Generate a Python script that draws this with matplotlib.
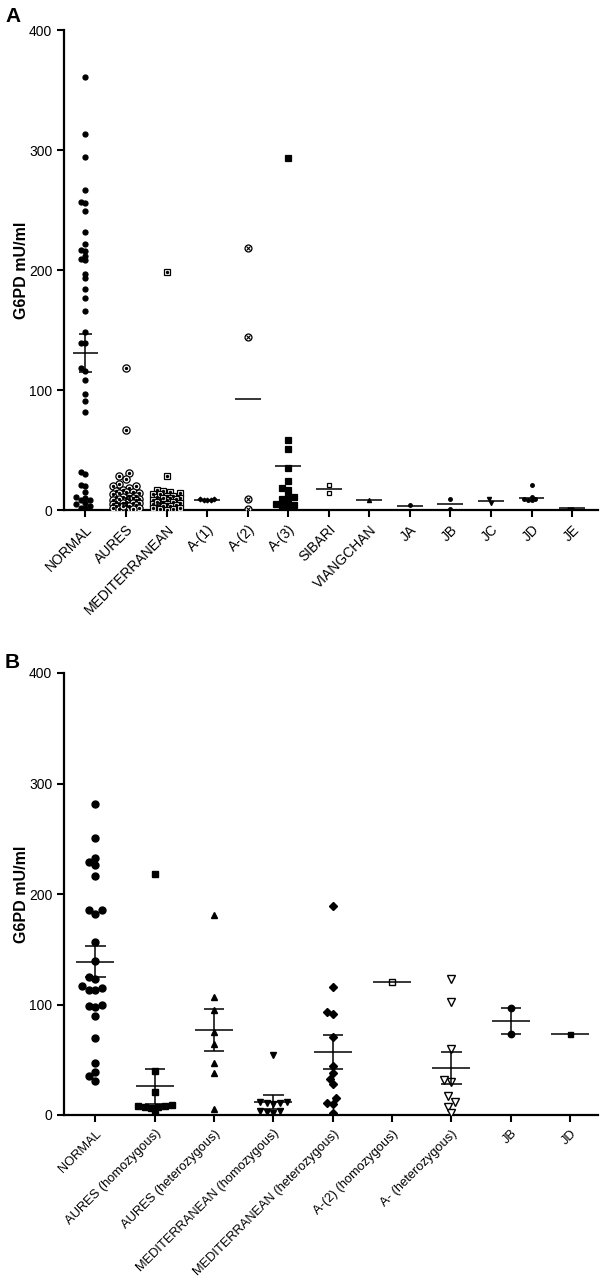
import matplotlib
matplotlib.use("Agg")
import matplotlib.pyplot as plt
import numpy as np

plt.rcParams['font.family'] = ['Liberation Sans', 'DejaVu Sans']

# ---- panel A data (G6PD mU/ml) ----
cats_a = ['NORMAL', 'AURES', 'MEDITERRANEAN', 'A-(1)', 'A-(2)', 'A-(3)', 'SIBARI',
          'VIANGCHAN', 'JA', 'JB', 'JC', 'JD', 'JE']
normal_a = [361, 313, 294, 267, 257, 256, 249, 232, 222, 217, 216, 212, 209, 208, 197,
            193, 184, 177, 166, 148, 139, 139, 118, 116, 108, 97, 91, 82, 32, 30, 21,
            20, 15, 11, 10, 8, 8, 6, 5, 3, 2, 2]
aures_a = [118, 67, 31, 28, 26, 22, 20, 20, 18, 17, 16, 15, 15, 14, 13, 12, 12, 11, 10,
           10, 9, 9, 8, 8, 7, 7, 6, 6, 5, 5, 4, 4, 3, 3, 2, 2, 1, 1, 0, 14, 11, 9, 6, 3]
med_a = [198, 28, 17, 16, 15, 14, 13, 12, 12, 11, 10, 10, 9, 9, 8, 8, 7, 7, 6, 6, 5, 5,
         4, 4, 3, 3, 2, 2, 1, 1, 0, 13, 10, 7]
a1_a = [9, 8, 8, 9, 8]
a2_a = [218, 144, 9, 1]
a3_a = [293, 58, 51, 35, 24, 18, 17, 12, 11, 9, 7, 5, 4, 3, 2]
sibari_a = [21, 14]
viang_a = [8]
ja_a = [4]
jb_a = [9, 1]
jc_a = [6, 9]
jd_a = [21, 11, 9, 8, 8, 9]
je_a = [1, 1]
vals_a = [normal_a, aures_a, med_a, a1_a, a2_a, a3_a, sibari_a, viang_a, ja_a, jb_a,
          jc_a, jd_a, je_a]
mean_a = [131, None, None, 8.5, 92.5, 36.7, 17.5, 8, 3.3, 5, 7.8, 10, 1.5]
sem_a = [16, 0, 0, 0, 0, 0, 0, 0, 0, 0, 0, 0, 0]

# ---- panel B data ----
cats_b = ['NORMAL', 'AURES (homozygous)', 'AURES (heterozygous)',
          'MEDITERRANEAN (homozygous)', 'MEDITERRANEAN (heterozygous)',
          'A-(2) (homozygous)', 'A- (heterozygous)', 'JB', 'JD']
normal_b = [281, 251, 233, 229, 226.5, 216.5, 185.5, 185.5, 181.6, 156.6, 139.6, 125,
            122.8, 116.5, 114.6, 113.4, 113.4, 99.5, 98.6, 97.8, 89.6, 69.7, 47.3, 39.2,
            35.3, 30.8]
aures_hom_b = [218, 40, 21, 8, 8, 7, 7, 6, 9, 1]
aures_het_b = [181, 107, 95, 75, 64, 47, 38, 5]
med_hom_b = [54, 12, 11, 10, 11, 12, 4, 3, 4, 2]
med_het_b = [189, 116, 93, 91, 71, 44, 38, 33, 28, 11, 10, 15, 2]
a2_hom_b = [120]
a_het_b = [123, 102, 60, 32, 30, 17, 12, 7.5, 2]
jb_b = [96.5, 73.3]
jd_b = [73.5]
vals_b = [normal_b, aures_hom_b, aures_het_b, med_hom_b, med_het_b, a2_hom_b, a_het_b,
          jb_b, jd_b]
mean_b = [138.5, 26, 77, 12, 57, 120, 42.5, 85, 73.5]
sem_b = [14, 16, 19, 6.5, 15, 0, 14.5, 11.7, 0]


def swarm(vals, d_px, px_x, px_y, maxw_px):
    # simple beeswarm offsets (in category units), no randomness
    vals = np.asarray(vals, float)
    order = np.argsort(vals)
    step = d_px / 2.0
    cands = [0.0]
    k = 1
    while k * step <= maxw_px:
        cands += [-k * step, k * step]
        k += 1
    placed = []
    offs = np.zeros(len(vals))
    for i in order:
        y = vals[i] * px_y
        best = None
        best_c, best_d = 0.0, -1
        for c in cands:
            md = min([np.hypot(c - px, y - py) for px, py in placed], default=1e9)
            if md >= d_px * 0.95:
                best = c
                break
            if md > best_d:
                best_d, best_c = md, c
        if best is None:
            best = best_c
        placed.append((best, y))
        offs[i] = best / px_x
    return offs


def style_axes(ax, cats, ymax, xfs):
    ax.set_xlim(-0.53, len(cats) - 1 + 0.64 if len(cats) > 10 else len(cats) - 1 + 0.47)
    ax.set_ylim(0, ymax)
    ax.set_yticks([0, 100, 200, 300, 400])
    ax.set_xticks(range(len(cats)))
    ax.set_xticklabels(cats, rotation=45, ha='right', va='top', rotation_mode='anchor',
                       fontsize=xfs)
    ax.tick_params(axis='y', labelsize=10, width=1.5, length=5)
    ax.tick_params(axis='x', width=1.5, length=5, pad=4)
    for s in ['top', 'right']:
        ax.spines[s].set_visible(False)
    for s in ['left', 'bottom']:
        ax.spines[s].set_linewidth(1.6)
    ax.set_ylabel('G6PD mU/ml', fontsize=11.5, fontweight='bold')
    ax.yaxis.set_label_coords(-0.066, 0.5)


def draw_means(ax, means, sems):
    for i, (m, s) in enumerate(zip(means, sems)):
        if m is None:
            continue
        ax.hlines(m, i - 0.32, i + 0.32, color='black', lw=1.1, zorder=5)
        if s > 0:
            ax.vlines(i, m - s, m + s, color='black', lw=1.1, zorder=5)
            ax.hlines([m - s, m + s], i - 0.17, i + 0.17, color='black', lw=1.1, zorder=5)


fig = plt.figure(figsize=(6, 12.87), dpi=100)
ax_a = fig.add_axes([64 / 600, 777 / 1287, 534 / 600, 480 / 1287])
ax_b = fig.add_axes([64 / 600, 172 / 1287, 534 / 600, 442 / 1287])

# ---- panel A ----
px_x_a, px_y_a = 40.5, 1.2
marks_a = [
    dict(marker='o', ms=3.6, mfc='black', d=4.6),
    dict(marker='o', ms=5.2, mfc='white', d=6.6, dot=True),
    dict(marker='s', ms=4.8, mfc='white', d=6.6, dot=True),
    dict(marker='D', ms=2.4, mfc='black', d=3.5),
    dict(marker='o', ms=5.0, mfc='white', d=6.5, cross=True),
    dict(marker='s', ms=4.6, mfc='black', d=6.0),
    dict(marker='s', ms=3.2, mfc='white', d=4.2),
    dict(marker='^', ms=3.0, mfc='black', d=4.0),
    dict(marker='o', ms=2.6, mfc='black', d=3.5),
    dict(marker='o', ms=2.6, mfc='black', d=3.5),
    dict(marker='v', ms=3.0, mfc='black', d=4.0),
    dict(marker='o', ms=2.6, mfc='black', d=3.6),
    dict(marker='o', ms=2.4, mfc='black', d=3.2),
]
for i, (v, mk) in enumerate(zip(vals_a, marks_a)):
    offs = swarm(v, mk['d'], px_x_a, px_y_a, 14)
    x = i + offs
    ax_a.plot(x, v, ls='none', marker=mk['marker'], ms=mk['ms'], mfc=mk['mfc'],
              mec='black', mew=0.9, zorder=3)
    if mk.get('dot'):
        ax_a.plot(x, v, ls='none', marker='o', ms=1.4, mfc='black', mec='black', zorder=4)
    if mk.get('cross'):
        ax_a.plot(x, v, ls='none', marker='x', ms=3.0, mec='black', mew=0.8, zorder=4)
draw_means(ax_a, mean_a, sem_a)
style_axes(ax_a, cats_a, 400, 10)

# ---- panel B ----
px_x_b, px_y_b = 59.4, 1.105
marks_b = [
    dict(marker='o', ms=5.0, mfc='black', d=6.8),
    dict(marker='s', ms=5.0, mfc='black', d=6.8),
    dict(marker='^', ms=5.0, mfc='black', d=6.8),
    dict(marker='v', ms=5.0, mfc='black', d=6.8),
    dict(marker='D', ms=3.6, mfc='black', d=6.0),
    dict(marker='s', ms=5.0, mfc='white', d=6.8),
    dict(marker='v', ms=6.0, mfc='white', d=7.5),
    dict(marker='o', ms=4.6, mfc='black', d=6.5),
    dict(marker='s', ms=3.6, mfc='black', d=5.0),
]
for i, (v, mk) in enumerate(zip(vals_b, marks_b)):
    offs = swarm(v, mk['d'], px_x_b, px_y_b, 20)
    ax_b.plot(i + offs, v, ls='none', marker=mk['marker'], ms=mk['ms'], mfc=mk['mfc'],
              mec='black', mew=1.0, zorder=3)
draw_means(ax_b, mean_b, sem_b)
style_axes(ax_b, cats_b, 400, 9.3)

fig.text(5 / 600, 1 - 16 / 1287, 'A', fontsize=15, fontweight='bold', va='center')
fig.text(5 / 600, 1 - 662 / 1287, 'B', fontsize=15, fontweight='bold', va='center')

fig.savefig('out.png', dpi=100)
